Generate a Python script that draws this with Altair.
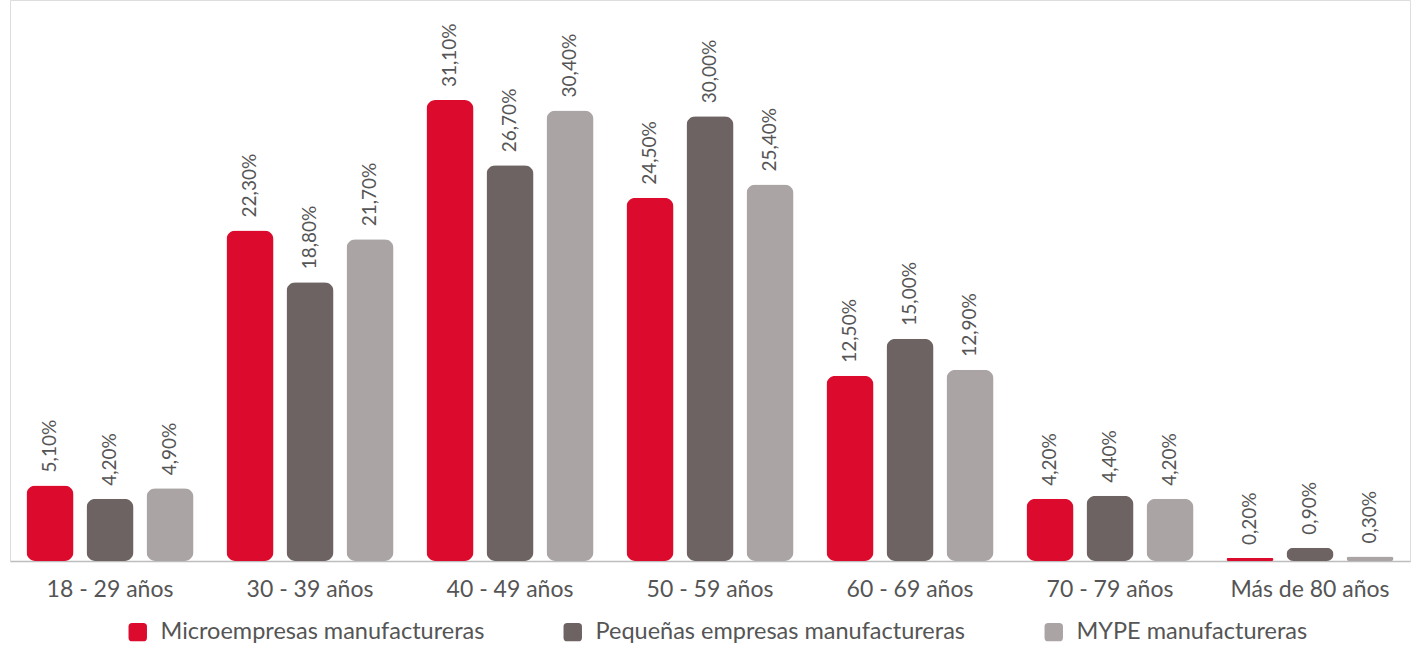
import altair as alt
import pandas as pd

groups = ["18 - 29 años", "30 - 39 años", "40 - 49 años", "50 - 59 años",
          "60 - 69 años", "70 - 79 años", "Más de 80 años"]
series = ["Microempresas manufactureras", "Pequeñas empresas manufactureras", "MYPE manufactureras"]
micro = [5.1, 22.3, 31.1, 24.5, 12.5, 4.2, 0.2]
pequenas = [4.2, 18.8, 26.7, 30.0, 15.0, 4.4, 0.9]
mype = [4.9, 21.7, 30.4, 25.4, 12.9, 4.2, 0.3]
colors = ["#DC0A2D", "#6E6363", "#ABA4A4"]

rows = []
for s, vals in zip(series, [micro, pequenas, mype]):
    for g, v in zip(groups, vals):
        rows.append({"grupo": g, "serie": s, "valor": v,
                     "etiqueta": f"{v:.2f}".replace(".", ",") + "%"})
df = pd.DataFrame(rows)

FONT = "Lato"
x = alt.X("grupo:N", sort=groups, title=None,
          scale=alt.Scale(paddingInner=0.1, paddingOuter=0.05),
          axis=alt.Axis(labelAngle=0, labelFontSize=23, labelColor="#555555",
                        labelFont=FONT, labelPadding=17, ticks=False,
                        domainColor="#BDBDBD", domainWidth=1.5))
xo = alt.XOffset("serie:N", sort=series,
                 scale=alt.Scale(paddingInner=0.2167, paddingOuter=0.108))
y = alt.Y("valor:Q", scale=alt.Scale(domain=[0, 37.85]), axis=None)

rounded_sq = "M-0.6,-1 L0.6,-1 Q1,-1 1,-0.6 L1,0.6 Q1,1 0.6,1 L-0.6,1 Q-1,1 -1,0.6 L-1,-0.6 Q-1,-1 -0.6,-1 Z"

bars = alt.Chart(df).mark_bar(cornerRadius=9).encode(
    x=x, xOffset=xo, y=y,
    color=alt.Color("serie:N", sort=series,
                    scale=alt.Scale(domain=series, range=colors),
                    legend=alt.Legend(title=None, orient="none", direction="horizontal",
                                      legendX=116, legendY=620,
                                      symbolType=rounded_sq, symbolSize=340,
                                      symbolStrokeWidth=0, labelFontSize=23.5,
                                      labelFont=FONT, labelColor="#555555",
                                      labelLimit=0, columnPadding=76, labelOffset=11))
)

labels = alt.Chart(df).mark_text(angle=270, align="left", baseline="middle", dx=13,
                                 fontSize=19, font=FONT, color="#555555").encode(
    x=x, xOffset=xo, y=y, text="etiqueta:N"
)

chart = (bars + labels).properties(
    width=1400, height=561,
    autosize=alt.AutoSizeParams(type="none"),
    padding={"left": 10, "right": 2, "top": 0, "bottom": 86},
).configure_view(stroke=None).configure(background="white")

chart.save("out.html", embed_options={"renderer": "svg", "actions": False})
